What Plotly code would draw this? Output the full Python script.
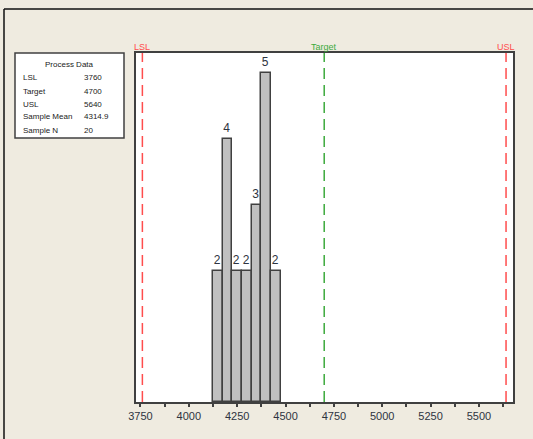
import plotly.graph_objects as go

# Data
bin_centers = [4150, 4200, 4250, 4300, 4350, 4400, 4450]
counts = [2, 4, 2, 2, 3, 5, 2]
bin_width = 50
spec_names = ["LSL", "Target", "USL"]
spec_values = [3760, 4700, 5640]
spec_colors = ["#ff4d4d", "#3daa3d", "#ff4d4d"]
table_labels = ["LSL", "Target", "USL", "Sample Mean", "Sample N"]
table_values = ["3760", "4700", "5640", "4314.9", "20"]
tick_vals = [3750, 4000, 4250, 4500, 4750, 5000, 5250, 5500]

W, H = 533, 439
L, R, T, B = 136, 20, 53, 37
pw, ph = W - L - R, H - T - B

def px(x):
    return (x - L) / pw

def py(y):
    return (H - B - y) / ph

fig = go.Figure()
fig.add_trace(go.Bar(
    x=bin_centers, y=counts, width=bin_width,
    marker=dict(color="#c0c0c0", line=dict(color="#404040", width=1.5)),
    text=[str(c) for c in counts], textposition="outside",
    textfont=dict(family="Arial", size=12, color="#2e3440"),
    cliponaxis=False, hoverinfo="skip",
))

shapes = []
annotations = []
for name, val, col in zip(spec_names, spec_values, spec_colors):
    shapes.append(dict(type="line", xref="x", yref="paper", x0=val, x1=val,
                       y0=0, y1=1, line=dict(color=col, width=1.5, dash="11px,6px")))
    annotations.append(dict(text=name, x=val, xref="x", y=py(47), yref="paper",
                            showarrow=False, xanchor="center", yanchor="middle",
                            font=dict(family="Arial", size=9, color=col)))

# outer border (top and left)
shapes.append(dict(type="line", xref="paper", yref="paper", x0=px(4), x1=px(540),
                   y0=py(9), y1=py(9), line=dict(color="#111111", width=1.5)))
shapes.append(dict(type="line", xref="paper", yref="paper", x0=px(4), x1=px(4),
                   y0=py(9), y1=py(445), line=dict(color="#111111", width=1.5)))

# process data box
shapes.append(dict(type="rect", xref="paper", yref="paper", x0=px(15), x1=px(124),
                   y0=py(138), y1=py(53), fillcolor="white",
                   line=dict(color="#404040", width=1.5)))
annotations.append(dict(text="Process Data", x=px(69.5), y=py(64), xref="paper", yref="paper",
                        showarrow=False, xanchor="center", yanchor="middle",
                        font=dict(family="Arial", size=8, color="#222")))
for i, (lab, v) in enumerate(zip(table_labels, table_values)):
    yy = py(78 + 13 * i)
    annotations.append(dict(text=lab, x=px(21), y=yy, xref="paper", yref="paper",
                            showarrow=False, xanchor="left", yanchor="middle",
                            font=dict(family="Arial", size=8, color="#222")))
    annotations.append(dict(text=v, x=px(82), y=yy, xref="paper", yref="paper",
                            showarrow=False, xanchor="left", yanchor="middle",
                            font=dict(family="Arial", size=8, color="#222")))

fig.update_layout(
    width=W, height=H,
    margin=dict(l=L, r=R, t=T, b=B, pad=0),
    paper_bgcolor="#efebe0", plot_bgcolor="white",
    showlegend=False, bargap=0,
    shapes=shapes, annotations=annotations,
    xaxis=dict(range=[3727, 5676], tickvals=tick_vals,
               ticktext=[str(t) for t in tick_vals],
               ticks="outside", ticklen=3, tickwidth=1.5, tickcolor="#404040",
               minor=dict(tickvals=[3875, 4125, 4375, 4625, 4875, 5125, 5375, 5625],
                          ticks="outside", ticklen=3, tickwidth=1.5, tickcolor="#404040"),
               showline=True, mirror=True, linecolor="#404040", linewidth=1.5,
               showgrid=False, zeroline=False,
               tickfont=dict(family="Arial", size=11, color="#2e3440")),
    yaxis=dict(range=[0, 5.31], showticklabels=False, ticks="", showgrid=False,
               zeroline=False, showline=True, mirror=True, linecolor="#404040",
               linewidth=1.5),
)

fig.write_html("out.html", config={"displayModeBar": False},
               post_script="document.body.style.margin='0';document.body.style.overflow='hidden';")
